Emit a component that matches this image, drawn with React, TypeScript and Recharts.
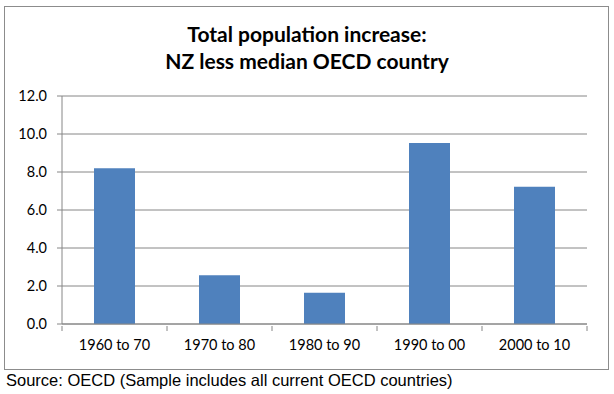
import React from 'react';
import { BarChart, Bar, XAxis, YAxis, CartesianGrid } from 'recharts';

const periods = ['1960 to 70', '1970 to 80', '1980 to 90', '1990 to 00', '2000 to 10'];
const increase = [8.2, 2.57, 1.64, 9.52, 7.22];
const yTicks = [0, 2, 4, 6, 8, 10, 12];

const data = periods.map((name, i) => ({ name, value: increase[i] }));

const W = 614;
const H = 372;
const M = { top: 96, right: 27, left: 12, bottom: 18 };
const Y_W = 50;
const band = (W - M.left - Y_W - M.right) / periods.length;

const CategoryTick = (props: any) => {
  const { x, y, payload, index } = props;
  const last = index === periods.length - 1;
  return (
    <g>
      <line x1={x - band / 2} y1={y} x2={x - band / 2} y2={y + 5} stroke="#868686" />
      {last && <line x1={x + band / 2} y1={y} x2={x + band / 2} y2={y + 5} stroke="#868686" />}
      <text x={x} y={y + 14} dy="0.71em" textAnchor="middle" fill="#000" fontSize={14.5} fontFamily="Lato">
        {payload.value}
      </text>
    </g>
  );
};

export default function App() {
  return (
    <div style={{ position: 'absolute', left: 0, top: 0, width: W, height: 394, background: '#fff' }}>
      <div style={{ position: 'absolute', left: 4, top: 6, width: 603, height: 362, border: '1px solid #8c8c8c' }} />
      <div
        style={{
          position: 'absolute', left: 0, top: 20, width: W, textAlign: 'center',
          fontFamily: 'Lato', fontWeight: 700, fontSize: 21, lineHeight: '27px', color: '#000',
        }}
      >
        Total population increase:
        <br />
        NZ less median OECD country
      </div>
      <div style={{ position: 'absolute', left: 0, top: 0 }}>
        <BarChart width={W} height={H} data={data} margin={M} barCategoryGap={32}>
          <CartesianGrid vertical={false} stroke="#868686" strokeWidth={1} />
          <XAxis
            dataKey="name"
            stroke="#868686"
            tickLine={false}
            tickSize={0}
            tick={<CategoryTick />}
            interval={0}
          />
          <YAxis
            width={Y_W}
            domain={[0, 12]}
            ticks={yTicks}
            interval={0}
            stroke="#868686"
            tickSize={5}
            tickMargin={10}
            tickFormatter={(v: number) => v.toFixed(1)}
            tick={{ fill: '#000', fontSize: 14.5, fontFamily: 'Lato' }}
          />
          <Bar dataKey="value" fill="#4F81BD" isAnimationActive={false} />
        </BarChart>
      </div>
      <div
        style={{
          position: 'absolute', left: 6, top: 371, fontFamily: 'Liberation Sans', fontSize: 16.5,
          color: '#000', whiteSpace: 'nowrap',
        }}
      >
        Source: OECD (Sample includes all current OECD countries)
      </div>
    </div>
  );
}
